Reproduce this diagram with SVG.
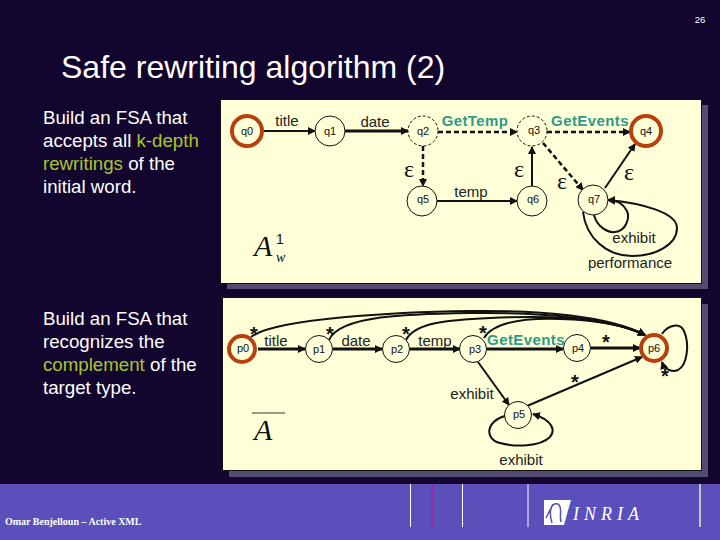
<svg xmlns="http://www.w3.org/2000/svg" width="720" height="540" viewBox="0 0 720 540">
<style>
text{font-family:"Liberation Sans",Arial,sans-serif}
.body{font-size:18.700px;fill:#fff}
.g{fill:#a9c52f}
.lb{font-size:15px;fill:#222;text-anchor:middle}
.gl{font-size:15px;fill:#2f9a88;text-anchor:middle;font-weight:bold;letter-spacing:.4px}
.n{fill:#ffffd8;stroke:#111;stroke-width:1}
.nd{fill:#ffffd8;stroke:#111;stroke-width:1;stroke-dasharray:3 2}
.nf{fill:#ffffd8;stroke:#b8400f;stroke-width:4}
.nt{font-size:11px;fill:#111;text-anchor:middle}
.e{font-family:"Liberation Serif",serif;font-size:24px;fill:#111;text-anchor:middle}
.s{font-family:"Liberation Sans",sans-serif;font-size:20px;font-weight:bold;fill:#111;text-anchor:middle}
.c{fill:none;stroke:#111;stroke-width:2;marker-end:url(#a)}
.t{stroke-width:3}
.d{fill:none;stroke:#111;stroke-width:2.500;stroke-dasharray:5 3;marker-end:url(#a)}
.m{font-family:"Liberation Serif",serif;font-style:italic;fill:#111}
</style>
<defs>
<marker id="a" markerUnits="userSpaceOnUse" markerWidth="8" markerHeight="8" refX="7" refY="4" orient="auto"><path d="M0 0L8 4L0 8z" fill="#111"/></marker>
</defs>
<rect width="720" height="540" fill="#12052e"/>
<text x="700" y="23" font-size="9.500" fill="#fff" text-anchor="middle">26</text>
<text x="61" y="78" font-size="32" fill="#fff">Safe rewriting algorithm (2)</text>
<g id="text-1">
<text x="43" y="124" class="body">Build an FSA that</text>
<text x="43" y="147" class="body">accepts all <tspan class="g">k-depth</tspan></text>
<text x="43" y="170" class="body"><tspan class="g">rewritings</tspan> of the</text>
<text x="43" y="193" class="body">initial word.</text>
</g>
<g id="text-2">
<text x="43" y="325" class="body">Build an FSA that</text>
<text x="43" y="348" class="body">recognizes the</text>
<text x="43" y="371" class="body"><tspan class="g">complement</tspan> of the</text>
<text x="43" y="394" class="body">target type.</text>
</g>
<g id="panels">
<rect x="227" y="105" width="481" height="184" fill="#524c72"/>
<rect x="220.500" y="99.500" width="481" height="184" fill="#ffffd8" stroke="#111"/>
<rect x="229" y="304" width="479" height="173" fill="#524c72"/>
<rect x="222.500" y="297.500" width="479" height="173" fill="#ffffd8" stroke="#111"/>
</g>
<g id="connectors">
<path class="c" d="M264 131H315"/>
<path class="c t" d="M345 131H408"/>
<path class="d" d="M438 132H517"/>
<path class="d" d="M547 132H630"/>
<path class="d" d="M423 146V186"/>
<path class="c" d="M437 201H517"/>
<path class="c" d="M532 186V147"/>
<path class="d" d="M543 143L583 190"/>
<path class="c" d="M605 188L635 144"/>
<path class="c" d="M594 215C597 227 608 233 615 232C626 231 630 218 627 211C623 203 615 200 608 200"/>
<path class="c" d="M583 212C586 238 607 256 632 256C655 256 677 245 677 228C677 212 640 203 608 200"/>
<path class="c t" d="M258 349H305"/>
<path class="c t" d="M333 349H382"/>
<path class="c t" d="M410 349H460"/>
<path class="c t" d="M487 349H563"/>
<path class="c t" d="M591 348H640"/>
<path class="c" d="M527 406L642 357"/>
<path class="c" d="M478 362L509 405"/>
<path class="c" d="M505 416C486 421 484 439 500 443C515 447 540 447 550 437C556 430 552 420 533 414"/>
<path class="c" d="M251 337C275 318 400 312 470 311C540 310 610 316 645 335"/>
<path class="c" d="M329 340C340 315 410 314 470 313C540 312 610 318 645 335"/>
<path class="c" d="M406 340C415 322 450 320 490 318C550 315 610 318 645 335"/>
<path class="c" d="M484 338C495 320 530 318 560 319C600 320 625 325 645 335"/>
<path class="c" d="M662 334C668 325 680 322 684 331C690 345 687 365 678 370C670 373 664 368 662 362"/>
</g>
<g id="q0"><circle class="nf" cx="247" cy="131" r="15"/><text class="nt" x="247" y="135">q0</text></g>
<g id="q1"><circle class="n" cx="330" cy="131" r="15"/><text class="nt" x="330" y="135">q1</text></g>
<g id="q2"><circle class="nd" cx="423" cy="131" r="15"/><text class="nt" x="423" y="135">q2</text></g>
<g id="q3"><circle class="nd" cx="532" cy="131" r="15"/><text class="nt" x="534" y="134">q3</text></g>
<g id="q4"><circle class="nf" cx="646" cy="131" r="15"/><text class="nt" x="646" y="135">q4</text></g>
<g id="q5"><circle class="n" cx="422" cy="201" r="15"/><text class="nt" x="423" y="203">q5</text></g>
<g id="q6"><circle class="n" cx="532" cy="201" r="15"/><text class="nt" x="533" y="203">q6</text></g>
<g id="q7"><circle class="n" cx="593" cy="200" r="15"/><text class="nt" x="594" y="203">q7</text></g>
<g id="p0"><circle class="nf" cx="242" cy="349" r="13"/><text class="nt" x="243" y="352">p0</text></g>
<g id="p1"><circle class="n" cx="319" cy="349" r="13.500"/><text class="nt" x="319" y="353">p1</text></g>
<g id="p2"><circle class="n" cx="396" cy="349" r="13.500"/><text class="nt" x="397" y="353">p2</text></g>
<g id="p3"><circle class="n" cx="473" cy="349" r="13.500"/><text class="nt" x="475" y="353">p3</text></g>
<g id="p4"><circle class="n" cx="577" cy="348" r="13.500"/><text class="nt" x="578" y="352">p4</text></g>
<g id="p5"><circle class="n" cx="518" cy="415" r="13.500"/><text class="nt" x="519" y="418">p5</text></g>
<g id="p6"><circle class="nf" cx="654" cy="348" r="13"/><text class="nt" x="654" y="352">p6</text></g>
<g id="labels">
<text class="lb" x="287" y="126">title</text>
<text class="lb" x="375" y="127">date</text>
<text class="gl" x="475" y="126">GetTemp</text>
<text class="gl" x="590" y="126">GetEvents</text>
<text class="lb" x="471" y="197">temp</text>
<text class="lb" x="634" y="243">exhibit</text>
<text class="lb" x="630" y="268">performance</text>
<text class="e" x="409" y="177">ε</text>
<text class="e" x="519" y="177">ε</text>
<text class="e" x="562" y="189">ε</text>
<text class="e" x="629" y="180">ε</text>
<text class="lb" x="276" y="346">title</text>
<text class="lb" x="356" y="346">date</text>
<text class="lb" x="435" y="346">temp</text>
<text class="gl" x="526" y="345">GetEvents</text>
<text class="lb" x="472" y="399">exhibit</text>
<text class="lb" x="521" y="465">exhibit</text>
<text class="s" x="254" y="341">*</text>
<text class="s" x="330" y="341">*</text>
<text class="s" x="406" y="341">*</text>
<text class="s" x="483" y="340">*</text>
<text class="s" x="606" y="349">*</text>
<text class="s" x="575" y="389">*</text>
<text class="s" x="665" y="383">*</text>
</g>
<g id="math">
<text class="m" x="254" y="256" font-size="30">A</text>
<text x="276" y="244" font-size="14" font-family="Liberation Serif" fill="#111">1</text>
<text class="m" x="276" y="262" font-size="14">w</text>
<path d="M252 413H285" stroke="#333" stroke-width="1"/>
<text class="m" x="254" y="440" font-size="30">A</text>
</g>
<g id="footer">
<rect y="484" width="720" height="56" fill="#5a4fbb"/>
<path d="M410.500 484V527M462.500 484V527M528 484V527" stroke="#fff" stroke-width="1"/>
<path d="M432 484V527" stroke="#92279e" stroke-width="2"/>
<path d="M700 484V527" stroke="#c8c4c0" stroke-width="2"/>
<text x="5" y="525" font-size="10" font-weight="bold" fill="#fff" style="font-family:'Liberation Serif',serif">Omar Benjelloun – Active XML</text>
<path d="M544 500H571L564 525H544z" fill="#fff"/>
<path d="M552 523C548 510 552 502 558 504C563 507 559 515 561 522M546 518L553 504" fill="none" stroke="#5a4fbb" stroke-width="1.500"/>
<text x="573" y="520" font-size="18" font-style="italic" fill="#fff" letter-spacing="5" style="font-family:'Liberation Serif',serif">INRIA</text>
</g>
</svg>
